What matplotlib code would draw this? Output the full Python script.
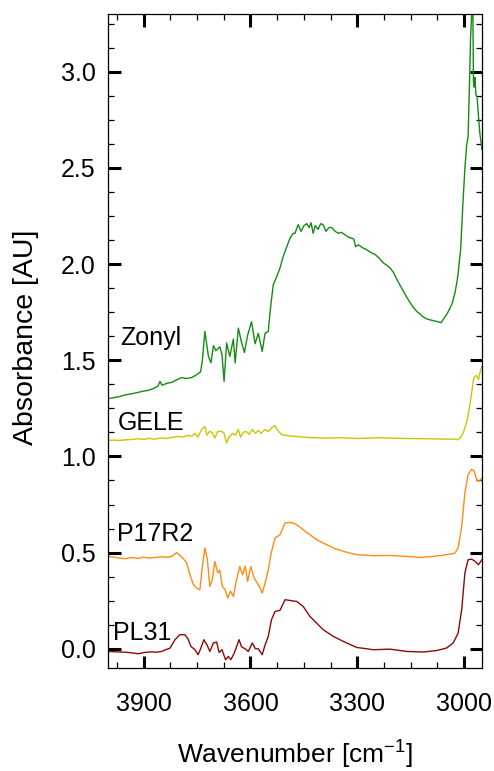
import matplotlib
matplotlib.use("Agg")
import matplotlib.pyplot as plt
from matplotlib.ticker import MultipleLocator

plt.rcParams["font.family"] = ["Liberation Sans", "DejaVu Sans"]
plt.rcParams["mathtext.fontset"] = "custom"
plt.rcParams["mathtext.rm"] = "Liberation Sans"

# Zonyl spectrum (wavenumber, absorbance)
zonyl_wn = [4000, 3985, 3970, 3952, 3935, 3915, 3900, 3887, 3870, 3860, 3854, 3848,
            3835, 3821, 3805, 3793, 3780, 3765, 3751, 3740, 3735, 3728, 3718, 3711,
            3704, 3697, 3686, 3680, 3674, 3667, 3658, 3648, 3643, 3634, 3626, 3617,
            3608, 3597, 3587, 3578, 3567, 3559, 3550, 3545, 3541, 3536, 3526, 3517,
            3508, 3498, 3489, 3480, 3475, 3466, 3458, 3450, 3442, 3435, 3430, 3424,
            3418, 3410, 3403, 3396, 3388, 3380, 3372, 3362, 3353, 3345, 3335, 3325,
            3316, 3310, 3305, 3297, 3285, 3274, 3262, 3250, 3238, 3227, 3218, 3208,
            3198, 3189, 3180, 3171, 3162, 3152, 3143, 3133, 3124, 3115, 3105, 3096,
            3085, 3073, 3065, 3054, 3047, 3040, 3033, 3026, 3020, 3017, 3010, 3004,
            2998, 2993, 2989, 2985, 2982, 2979, 2976, 2974, 2972, 2970, 2967, 2964,
            2960, 2956, 2950]
zonyl_abs = [1.300, 1.305, 1.310, 1.320, 1.325, 1.333, 1.340, 1.343, 1.355, 1.365, 1.390, 1.370,
             1.380, 1.385, 1.400, 1.410, 1.405, 1.410, 1.425, 1.440, 1.500, 1.650, 1.520, 1.487,
             1.576, 1.550, 1.570, 1.530, 1.390, 1.590, 1.520, 1.610, 1.486, 1.667, 1.600, 1.540,
             1.630, 1.700, 1.586, 1.640, 1.546, 1.640, 1.650, 1.750, 1.815, 1.893, 1.936, 1.980,
             2.040, 2.090, 2.135, 2.160, 2.160, 2.205, 2.170, 2.200, 2.210, 2.190, 2.215, 2.160,
             2.200, 2.180, 2.210, 2.205, 2.170, 2.190, 2.190, 2.170, 2.160, 2.165, 2.153, 2.140,
             2.135, 2.130, 2.090, 2.100, 2.085, 2.075, 2.060, 2.050, 2.030, 2.006, 1.995, 1.980,
             1.955, 1.920, 1.890, 1.860, 1.830, 1.800, 1.775, 1.754, 1.740, 1.725, 1.715, 1.710,
             1.705, 1.700, 1.695, 1.725, 1.745, 1.770, 1.800, 1.850, 1.910, 1.953, 2.075, 2.300,
             2.500, 2.620, 2.660, 2.950, 3.180, 3.300, 3.400, 2.950, 2.920, 2.970, 2.880, 2.870,
             2.770, 2.680, 2.595]

# GELE spectrum
gele_wn = [4000, 3985, 3970, 3952, 3935, 3915, 3900, 3885, 3870, 3850, 3835, 3821,
           3805, 3790, 3775, 3765, 3756, 3748, 3737, 3728, 3722, 3715, 3708, 3700,
           3692, 3681, 3674, 3667, 3660, 3650, 3642, 3634, 3628, 3620, 3612, 3604,
           3595, 3586, 3578, 3570, 3560, 3550, 3540, 3531, 3524, 3512, 3495, 3475,
           3450, 3400, 3350, 3300, 3250, 3200, 3150, 3100, 3060, 3031, 3017, 3010,
           3003, 2996, 2989, 2984, 2979, 2974, 2970, 2965, 2960, 2955, 2950]
gele_abs = [1.083, 1.085, 1.083, 1.086, 1.088, 1.092, 1.088, 1.094, 1.090, 1.096, 1.093, 1.099,
            1.104, 1.100, 1.110, 1.105, 1.120, 1.100, 1.140, 1.156, 1.110, 1.130, 1.125, 1.095,
            1.130, 1.130, 1.120, 1.070, 1.100, 1.120, 1.110, 1.140, 1.100, 1.125, 1.130, 1.115,
            1.140, 1.120, 1.135, 1.120, 1.140, 1.130, 1.150, 1.160, 1.135, 1.113, 1.108, 1.104,
            1.100, 1.095, 1.097, 1.093, 1.097, 1.095, 1.093, 1.092, 1.090, 1.090, 1.087, 1.100,
            1.120, 1.160, 1.210, 1.270, 1.330, 1.400, 1.416, 1.420, 1.400, 1.440, 1.470]

# P17R2 spectrum
p17r2_wn = [4000, 3985, 3970, 3952, 3935, 3915, 3900, 3885, 3868, 3850, 3835, 3821,
            3807, 3798, 3789, 3779, 3770, 3760, 3751, 3742, 3735, 3728, 3721, 3714,
            3707, 3700, 3692, 3686, 3679, 3672, 3664, 3656, 3648, 3639, 3630, 3622,
            3615, 3608, 3599, 3590, 3581, 3574, 3567, 3559, 3550, 3542, 3531, 3517,
            3503, 3489, 3475, 3470, 3452, 3433, 3414, 3396, 3367, 3339, 3302, 3255,
            3208, 3161, 3124, 3087, 3049, 3026, 3017, 3007, 2998, 2989, 2979, 2972,
            2965, 2958, 2950]
p17r2_abs = [0.480, 0.477, 0.472, 0.468, 0.474, 0.470, 0.476, 0.472, 0.475, 0.478, 0.476, 0.480,
             0.500, 0.485, 0.470, 0.445, 0.385, 0.333, 0.315, 0.307, 0.428, 0.524, 0.463, 0.324,
             0.359, 0.454, 0.394, 0.410, 0.324, 0.310, 0.264, 0.300, 0.272, 0.359, 0.428, 0.385,
             0.430, 0.350, 0.428, 0.368, 0.342, 0.320, 0.290, 0.342, 0.410, 0.497, 0.576, 0.593,
             0.654, 0.657, 0.650, 0.645, 0.619, 0.593, 0.567, 0.550, 0.524, 0.506, 0.489, 0.484,
             0.485, 0.480, 0.475, 0.480, 0.489, 0.497, 0.524, 0.636, 0.810, 0.905, 0.934, 0.925,
             0.879, 0.870, 0.888]

# PL31 spectrum
pl31_wn = [4000, 3975, 3950, 3930, 3915, 3900, 3880, 3865, 3849, 3838, 3826, 3812,
           3798, 3784, 3775, 3767, 3756, 3747, 3740, 3731, 3722, 3714, 3704, 3695,
           3688, 3680, 3670, 3662, 3655, 3645, 3632, 3625, 3615, 3606, 3595, 3586,
           3578, 3567, 3559, 3550, 3541, 3531, 3517, 3503, 3489, 3470, 3452, 3433,
           3414, 3396, 3367, 3339, 3302, 3255, 3208, 3161, 3115, 3077, 3049, 3031,
           3017, 3007, 2998, 2989, 2979, 2970, 2960, 2950]
pl31_abs = [-0.014, -0.016, -0.018, -0.022, -0.026, -0.020, -0.016, -0.018, -0.014, -0.005, 0.003, 0.047,
            0.073, 0.073, 0.050, 0.012, -0.005, -0.031, 0.000, 0.047, 0.020, -0.014, 0.030, 0.035,
            -0.019, -0.005, -0.057, -0.040, -0.057, -0.020, 0.047, 0.010, 0.000, -0.014, 0.030, 0.000,
            0.000, -0.031, 0.020, 0.064, 0.151, 0.194, 0.200, 0.255, 0.251, 0.246, 0.220, 0.168,
            0.133, 0.099, 0.064, 0.038, 0.007, -0.005, -0.002, -0.014, -0.017, -0.009, 0.004, 0.030,
            0.081, 0.203, 0.394, 0.463, 0.466, 0.455, 0.437, 0.463]

labels = ["Zonyl", "GELE", "P17R2", "PL31"]
label_pos = [(3966, 1.616), (3973, 1.176), (3976, 0.596), (3985, 0.082)]

fig = plt.figure(figsize=(4.94, 7.71), dpi=100)
ax = fig.add_axes([0.2186, 0.1336, 0.7571, 0.8482])

ax.plot(zonyl_wn, zonyl_abs, color="#148c14", lw=1.0)
ax.plot(gele_wn, gele_abs, color="#c8c800", lw=1.0)
ax.plot(p17r2_wn, p17r2_abs, color="#ff8c14", lw=1.0)
ax.plot(pl31_wn, pl31_abs, color="#8b0a0a", lw=1.0)

for lab, (x, y) in zip(labels, label_pos):
    ax.text(x, y, lab, fontsize=18, ha="left", va="center")

ax.set_xlim(4000, 2950)
ax.set_ylim(-0.1, 3.3)
ax.xaxis.set_major_locator(MultipleLocator(300))
ax.xaxis.set_minor_locator(MultipleLocator(75))
ax.yaxis.set_major_locator(MultipleLocator(0.5))
ax.yaxis.set_minor_locator(MultipleLocator(0.125))
ax.yaxis.set_major_formatter(plt.FormatStrFormatter("%.1f"))

ax.tick_params(which="both", direction="in", top=True, right=True, labelsize=18)
ax.tick_params(which="major", length=9, width=2.2)
ax.tick_params(which="minor", length=4.5, width=0.9)
ax.tick_params(axis="x", which="major", pad=17)
ax.tick_params(axis="y", which="major", pad=9)
for s in ax.spines.values():
    s.set_linewidth(0.9)

ax.set_xlabel("Wavenumber [cm$^{-1}$]", fontsize=19)
ax.set_ylabel("Absorbance [AU]", fontsize=20.5)
ax.xaxis.set_label_coords(0.5, -0.105)
ax.yaxis.set_label_coords(-0.184, 0.505)

fig.savefig("out.png", dpi=100)
